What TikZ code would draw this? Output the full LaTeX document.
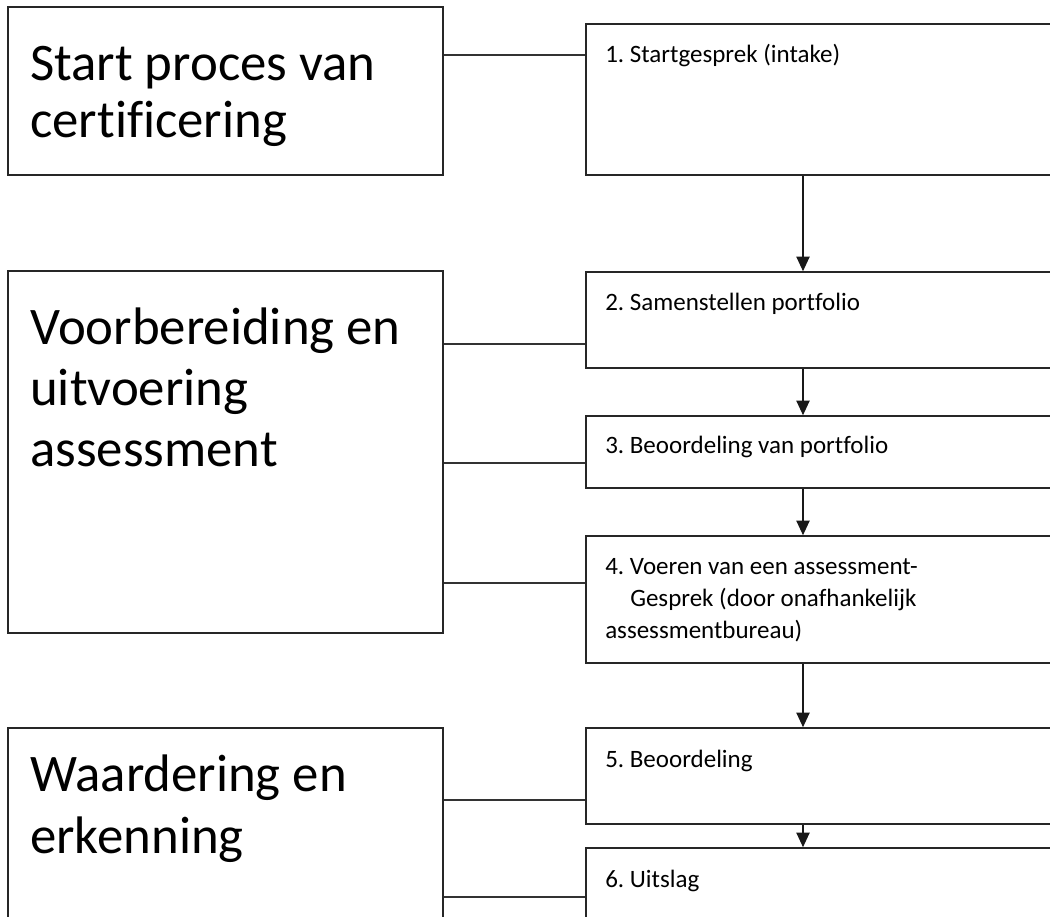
\documentclass[tikz,border=0pt]{standalone}
\usepackage{fontspec}
\setmainfont{Carlito}[Ligatures={NoCommon}]
\frenchspacing
\usetikzlibrary{arrows.meta}
\begin{document}
\begin{tikzpicture}[x=0.75pt,y=-0.75pt,
  bx/.style={draw=black!85, line width=1.2pt, rectangle, inner sep=0pt, fill=white},
  lbox/.style={bx, minimum width=326.25pt},
  rbox/.style={bx, minimum width=363pt},
  ln/.style={draw=black!80, line width=1.1pt},
  arr/.style={draw=black!90, line width=1pt, -{Triangle[width=10pt,length=11pt]}},
  big/.style={inner sep=0pt, anchor=base west, font=\fontsize{39.6pt}{36pt}\selectfont},
  small/.style={inner sep=0pt, anchor=base west, font=\fontsize{18.75pt}{24pt}\selectfont}]
\useasboundingbox (0,0) rectangle (1050,917);
\clip (0,0) rectangle (1050,917);
\fill[white] (0,0) rectangle (1050,917);

% left boxes
\node[lbox, minimum height=126pt] (L1) at (225.5,91) {};
\node[lbox, minimum height=271.5pt] (L2) at (225.5,452) {};
\node[lbox, minimum height=159pt] (L3) at (225.5,834) {};

% right boxes
\node[rbox, minimum height=113.25pt] (R1) at (828,99.5) {};
\node[rbox, minimum height=72pt] (R2) at (828,320) {};
\node[rbox, minimum height=54pt] (R3) at (828,452) {};
\node[rbox, minimum height=95.25pt] (R4) at (828,599.5) {};
\node[rbox, minimum height=72pt] (R5) at (828,776) {};
\node[rbox, minimum height=76.5pt] (R6) at (828,899) {};

% texts
\node[big] (t1) at (30,80) {\vtop{\baselineskip=43.5pt\hbox{Start proces van}\hbox{certificering}}};
\node[big] (t2) at (30,344) {\vtop{\baselineskip=45.75pt\hbox{Voorbereiding en}\hbox{uitvoering}\hbox{assessment}}};
\node[big] (t3) at (30,791) {\vtop{\baselineskip=46.5pt\hbox{Waardering en}\hbox{erkenning}}};

\node[small] (s1) at (605,63) {1. Startgesprek (intake)};
\node[small] (s2) at (605,310) {2. Samenstellen portfolio};
\node[small] (s3) at (605,453) {3. Beoordeling van portfolio};
\node[small] (s4) at (605,574) {\vtop{\baselineskip=24pt\hbox{4. Voeren van een assessment-}\hbox{\hspace*{18.75pt}Gesprek (door onafhankelijk}\hbox{assessmentbureau)}}};
\node[small] (s5) at (605,767) {5. Beoordeling};
\node[small] (s6) at (605,887) {6. Uitslag};

% horizontal connectors
\coordinate (h1) at (0,55);
\coordinate (h2) at (0,344);
\coordinate (h3) at (0,463);
\coordinate (h4) at (0,583);
\coordinate (h5) at (0,800);
\coordinate (h6) at (0,897);
\draw[ln] (L1.east |- h1) -- (R1.west |- h1);
\draw[ln] (L2.east |- h2) -- (R2.west |- h2);
\draw[ln] (L2.east |- h3) -- (R3.west |- h3);
\draw[ln] (L2.east |- h4) -- (R4.west |- h4);
\draw[ln] (L3.east |- h5) -- (R5.west |- h5);
\draw[ln] (L3.east |- h6) -- (R6.west |- h6);

% vertical arrows
\coordinate (ax) at (803,0);
\draw[arr] (R1.south -| ax) -- (R2.north -| ax);
\draw[arr] (R2.south -| ax) -- (R3.north -| ax);
\draw[arr] (R3.south -| ax) -- (R4.north -| ax);
\draw[arr] (R4.south -| ax) -- (R5.north -| ax);
\draw[arr] (R5.south -| ax) -- (R6.north -| ax);
\end{tikzpicture}
\end{document}
